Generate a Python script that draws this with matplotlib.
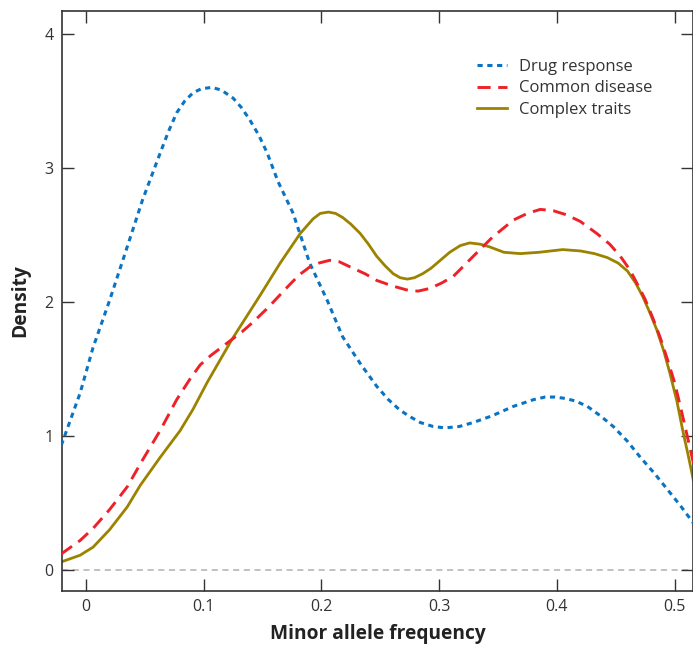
import numpy as np
import matplotlib
matplotlib.use("Agg")
import matplotlib.pyplot as plt

plt.rcParams['font.family'] = ['Open Sans', 'DejaVu Sans']

# Values (minor allele frequency, density)
drug_x = [-0.021, -0.005, 0.006, 0.020, 0.035, 0.048, 0.063, 0.070, 0.077, 0.084,
          0.091, 0.098, 0.107, 0.115, 0.125, 0.132, 0.139, 0.147, 0.154, 0.163,
          0.176, 0.190, 0.205, 0.218, 0.233, 0.247, 0.257, 0.267, 0.276, 0.284,
          0.295, 0.305, 0.317, 0.329, 0.345, 0.363, 0.380, 0.390, 0.398, 0.407,
          0.416, 0.426, 0.437, 0.448, 0.460, 0.471, 0.483, 0.494, 0.505, 0.516]
drug_y = [0.93, 1.32, 1.66, 2.01, 2.41, 2.76, 3.11, 3.27, 3.41, 3.50,
          3.56, 3.59, 3.60, 3.58, 3.52, 3.45, 3.36, 3.24, 3.11, 2.90,
          2.66, 2.29, 2.01, 1.74, 1.54, 1.37, 1.27, 1.19, 1.14, 1.10,
          1.07, 1.06, 1.07, 1.10, 1.15, 1.22, 1.27, 1.29, 1.29, 1.28,
          1.26, 1.22, 1.15, 1.07, 0.96, 0.84, 0.72, 0.60, 0.48, 0.35]

disease_x = [-0.021, -0.005, 0.006, 0.020, 0.035, 0.048, 0.063, 0.077, 0.088,
             0.097, 0.106, 0.115, 0.124, 0.133, 0.142, 0.155, 0.171, 0.181,
             0.190, 0.198, 0.207, 0.215, 0.227, 0.237, 0.247, 0.260, 0.272,
             0.282, 0.292, 0.302, 0.312, 0.320, 0.329, 0.345, 0.363, 0.375,
             0.386, 0.397, 0.408, 0.420, 0.434, 0.445, 0.454, 0.462, 0.468,
             0.475, 0.482, 0.488, 0.494, 0.500, 0.505, 0.510, 0.516]
disease_y = [0.12, 0.22, 0.31, 0.45, 0.62, 0.82, 1.04, 1.27, 1.42,
             1.53, 1.60, 1.66, 1.72, 1.78, 1.85, 1.96, 2.11, 2.20,
             2.26, 2.29, 2.31, 2.30, 2.25, 2.21, 2.16, 2.12, 2.09,
             2.08, 2.10, 2.14, 2.19, 2.26, 2.34, 2.48, 2.61, 2.66,
             2.69, 2.68, 2.65, 2.60, 2.51, 2.43, 2.34, 2.24, 2.14,
             2.02, 1.87, 1.73, 1.57, 1.40, 1.22, 1.03, 0.80]

traits_x = [-0.021, -0.005, 0.006, 0.020, 0.035, 0.046, 0.063, 0.080, 0.091,
            0.103, 0.124, 0.148, 0.165, 0.182, 0.193, 0.199, 0.206, 0.212,
            0.218, 0.225, 0.233, 0.240, 0.247, 0.254, 0.261, 0.267, 0.273,
            0.279, 0.286, 0.293, 0.301, 0.309, 0.318, 0.326, 0.335, 0.343,
            0.355, 0.369, 0.385, 0.405, 0.420, 0.432, 0.443, 0.452, 0.460,
            0.467, 0.473, 0.479, 0.485, 0.491, 0.496, 0.502, 0.507, 0.512,
            0.516]
traits_y = [0.06, 0.11, 0.17, 0.30, 0.47, 0.63, 0.84, 1.04, 1.20,
            1.40, 1.72, 2.05, 2.29, 2.51, 2.62, 2.66, 2.67, 2.66,
            2.63, 2.58, 2.51, 2.43, 2.34, 2.27, 2.21, 2.18, 2.17,
            2.18, 2.21, 2.25, 2.31, 2.37, 2.42, 2.44, 2.43, 2.41,
            2.37, 2.36, 2.37, 2.39, 2.38, 2.36, 2.33, 2.29, 2.23,
            2.14, 2.04, 1.92, 1.79, 1.63, 1.47, 1.26, 1.04, 0.84,
            0.67]

x_ticks = [0, 0.1, 0.2, 0.3, 0.4, 0.5]
x_labels = ['0', '0.1', '0.2', '0.3', '0.4', '0.5']
y_ticks = [0, 1, 2, 3, 4]

fig = plt.figure(figsize=(6.93, 6.45), dpi=100)
ax = fig.add_axes([62 / 693, 1 - 591 / 645, 1 - 62 / 693, (591 - 11) / 645])

# zero reference line
ax.axhline(0, color='#b0b0b0', lw=1.1, ls=(0, (4, 3)), zorder=1)

ax.plot(drug_x, drug_y, color='#0a74c4', lw=2.2, ls=(0, (1.7, 1.5)),
        label='Drug response', zorder=3)
ax.plot(disease_x, disease_y, color='#ee2129', lw=2.1, ls=(0, (4.5, 2.6)),
        label='Common disease', zorder=3)
ax.plot(traits_x, traits_y, color='#9b8300', lw=2.0, ls='-',
        label='Complex traits', zorder=2)

ax.set_xlim(-0.0204, 0.5157)
ax.set_ylim(-0.157, 4.17)
ax.set_xticks(x_ticks)
ax.set_xticklabels(x_labels)
ax.set_yticks(y_ticks)

ax.tick_params(direction='in', length=8.5, width=1.0, color='#333333',
               labelsize=11.5, labelcolor='#333333', top=True, right=True,
               pad=6)
for s in ax.spines.values():
    s.set_color('#333333')
    s.set_linewidth(1.2)

ax.set_xlabel('Minor allele frequency', fontsize=13.8, fontweight='bold',
              color='#222222', labelpad=6)
ax.set_ylabel('Density', fontsize=13.8, fontweight='bold', color='#222222',
              labelpad=10)

ax.legend(loc='upper left', bbox_to_anchor=((477 - 62) / 631, (591 - 59) / 580),
          frameon=False, borderpad=0, borderaxespad=0,
          fontsize=12, handlelength=1.8, handletextpad=0.72,
          labelspacing=0.32, labelcolor='#333333')

fig.savefig('out.png', dpi=100)
